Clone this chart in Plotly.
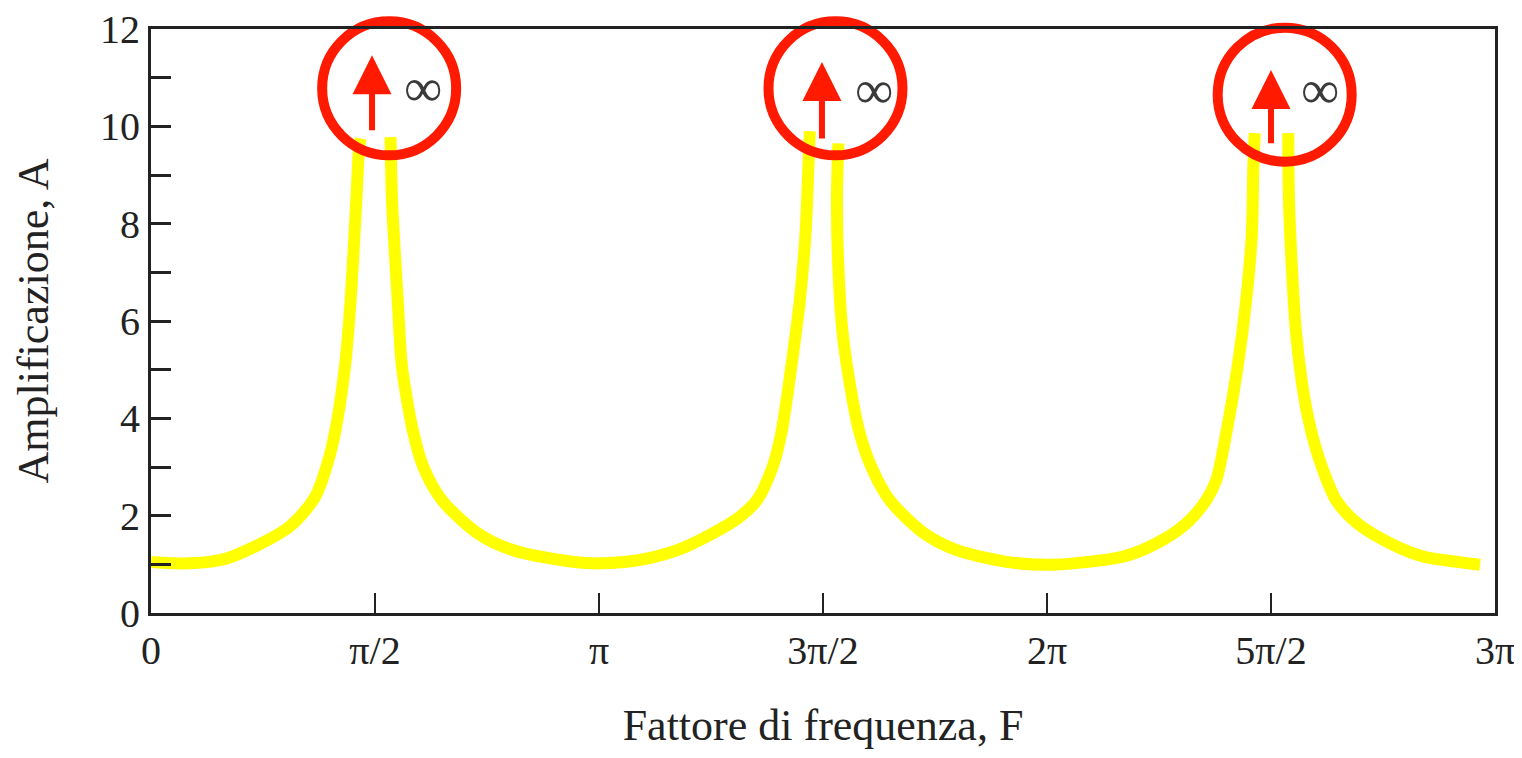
import math
import plotly.graph_objects as go

# ---- data ----
# Frequency factor F (radians) and amplification A, one list per continuous branch
SEG1_F = [0.00, 0.27, 0.53, 0.97, 1.15, 1.23, 1.29, 1.36, 1.40, 1.44, 1.46, 1.47]
SEG1_A = [1.05, 1.02, 1.12, 1.77, 2.38, 3.00, 3.70, 5.06, 6.43, 8.49, 9.58, 9.75]

SEG2_F = [1.68, 1.69, 1.73, 1.76, 1.84, 1.91, 2.04, 2.29, 2.54, 2.96, 3.15,
          3.43, 3.69, 3.94, 4.13, 4.25, 4.36, 4.42, 4.49, 4.55, 4.59, 4.61, 4.62]
SEG2_A = [9.78, 8.49, 6.43, 5.06, 3.70, 3.00, 2.32, 1.64, 1.29, 1.05, 1.02,
          1.09, 1.29, 1.64, 1.98, 2.32, 3.01, 3.69, 5.06, 6.43, 7.80, 9.17, 9.90]

SEG3_F = [4.82, 4.81, 4.82, 4.85, 4.92, 4.97, 5.05, 5.18, 5.42, 5.65, 6.00,
          6.28, 6.47, 6.82, 7.05, 7.26, 7.40, 7.47, 7.54, 7.62, 7.68, 7.72, 7.73, 7.74]
SEG3_A = [9.65, 8.49, 7.12, 5.75, 4.38, 3.69, 3.01, 2.32, 1.64, 1.29, 1.05,
          0.99, 1.02, 1.16, 1.43, 1.84, 2.32, 2.73, 3.69, 5.06, 6.43, 7.80, 9.17, 9.86]

SEG4_F = [7.975, 7.98, 8.00, 8.03, 8.09, 8.14, 8.21, 8.31, 8.46, 8.69, 8.92, 9.16, 9.32]
SEG4_A = [9.86, 8.49, 7.12, 5.75, 4.38, 3.69, 3.01, 2.32, 1.84, 1.43, 1.16, 1.05, 0.99]

# highlighted resonances (circles, arrows to infinity)
MARK_F = [1.67, 4.80, 7.95]
MARK_A = [10.78, 10.78, 10.65]
ARROW_F = [1.55, 4.705, 7.854]
ARROW_TAIL_A = [9.89, 9.72, 9.62]
ARROW_TIP_A = [11.46, 11.32, 11.16]
INF_F = [1.914, 5.077, 8.198]
INF_A = [10.79, 10.75, 10.75]

# axis ticks
X_TICK_HALF_PI = [0, 1, 2, 3, 4, 5, 6]
X_TICK_TEXT = ["0", "π/2", "π", "3π/2", "2π", "5π/2", "3π"]
Y_TICKS = list(range(0, 13))
Y_TICK_TEXT = [str(v) if v % 2 == 0 else "" for v in Y_TICKS]

X_TITLE = "Fattore di frequenza, F"
Y_TITLE = "Amplificazione, A"

FONT = "Liberation Serif, Times New Roman, serif"
YELLOW = "#FFFF00"
RED = "#FF1A00"

fig = go.Figure()
for fx, ay in [(SEG1_F, SEG1_A), (SEG2_F, SEG2_A), (SEG3_F, SEG3_A), (SEG4_F, SEG4_A)]:
    fig.add_trace(go.Scatter(
        x=fx, y=ay, mode="lines",
        line=dict(color=YELLOW, width=12, shape="spline", smoothing=0.8),
        showlegend=False, hoverinfo="skip",
    ))

fig.add_trace(go.Scatter(
    x=MARK_F, y=MARK_A, mode="markers",
    marker=dict(symbol="circle-open", size=134, color=RED, line=dict(width=10, color=RED)),
    cliponaxis=False, showlegend=False, hoverinfo="skip",
))

for fx, t0, t1 in zip(ARROW_F, ARROW_TAIL_A, ARROW_TIP_A):
    fig.add_annotation(
        x=fx, y=t1, ax=fx, ay=t0, xref="x", yref="y", axref="x", ayref="y",
        text="", showarrow=True, arrowhead=2, arrowsize=1.3, arrowwidth=6,
        arrowcolor=RED,
    )

for fx, ay in zip(INF_F, INF_A):
    fig.add_annotation(
        x=fx, y=ay, xref="x", yref="y", text="∞", showarrow=False,
        font=dict(family=FONT, size=54, color="#3a3a3a"),
    )

fig.update_layout(
    width=1506, height=742,
    margin=dict(l=143, r=19, t=21, b=137),
    paper_bgcolor="white", plot_bgcolor="white",
    font=dict(family=FONT, color="#222222"),
    showlegend=False,
)
fig.update_xaxes(
    range=[0, 3 * math.pi], automargin=False, ticklabeloverflow="allow",
    tickvals=[k * math.pi / 2 for k in X_TICK_HALF_PI], ticktext=X_TICK_TEXT,
    ticks="inside", ticklen=20, tickwidth=2, tickcolor="#222222",
    showline=True, linewidth=3, linecolor="#222222", mirror=True,
    showgrid=False, zeroline=False,
    tickfont=dict(family=FONT, size=40, color="#222222"),
    title=dict(text=X_TITLE, font=dict(family=FONT, size=44, color="#222222"), standoff=56),
)
fig.update_yaxes(
    range=[0, 12], automargin=False, ticklabeloverflow="allow",
    tickvals=Y_TICKS, ticktext=Y_TICK_TEXT,
    ticks="inside", ticklen=20, tickwidth=3, tickcolor="#222222",
    showline=True, linewidth=3, linecolor="#222222", mirror=True,
    showgrid=False, zeroline=False,
    tickfont=dict(family=FONT, size=40, color="#222222"),
    title=dict(text=Y_TITLE, font=dict(family=FONT, size=44, color="#222222"), standoff=38),
)

fig.write_html("out.html")
